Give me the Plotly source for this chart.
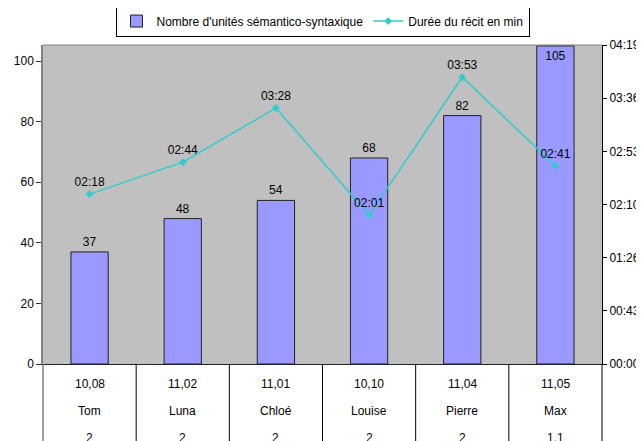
import plotly.graph_objects as go

names = ["Tom", "Luna", "Chloé", "Louise", "Pierre", "Max"]
ages = ["10,08", "11,02", "11,01", "10,10", "11,04", "11,05"]
groups = ["2", "2", "2", "2", "2", "1.1"]
units = [37, 48, 54, 68, 82, 105]
durations = ["02:18", "02:44", "03:28", "02:01", "03:53", "02:41"]

left_ticks = [0, 20, 40, 60, 80, 100]
right_tick_secs = [0, 43.2, 86.4, 129.6, 172.8, 216.0, 259.2]
right_tick_text = ["00:00", "00:43", "01:26", "02:10", "02:53", "03:36", "04:19"]

def to_sec(s):
    m, sec = s.split(":")
    return int(m) * 60 + int(sec)

dur_secs = [to_sec(d) for d in durations]
xs = list(range(len(names)))

FONT = "Liberation Sans, Arial, sans-serif"
FS = 12

fig = go.Figure()
fig.add_trace(go.Bar(
    x=xs, y=units, name="Nombre d'unités sémantico-syntaxique",
    marker=dict(color="#9999FF", line=dict(color="#222222", width=1)),
    width=0.4,
    text=[str(u) for u in units],
    textposition=["outside"] * 5 + ["inside"],
    insidetextanchor="end",
    textfont=dict(family=FONT, size=FS, color="black"),
    insidetextfont=dict(family=FONT, size=FS, color="black"),
    outsidetextfont=dict(family=FONT, size=FS, color="black"),
    constraintext="none",
    cliponaxis=False,
))
fig.add_trace(go.Scatter(
    x=xs, y=dur_secs, yaxis="y2", name="Durée du récit en min",
    mode="lines+markers+text",
    line=dict(color="#33CCCC", width=1.5),
    marker=dict(color="#33CCCC", size=6, symbol="diamond"),
    text=durations, textposition="top center",
    textfont=dict(family=FONT, size=FS, color="black"),
    cliponaxis=False,
))

# category rows and separators
row_y = [-0.063, -0.146, -0.232]
for i in xs:
    for ry, labels in zip(row_y, [ages, names, groups]):
        fig.add_annotation(x=i, y=ry, xref="x", yref="paper", text=labels[i],
                           showarrow=False, font=dict(family=FONT, size=FS, color="black"),
                           yanchor="middle")
for i in range(1, len(names)):
    fig.add_shape(type="line", xref="x", yref="paper", x0=i - 0.5, x1=i - 0.5,
                  y0=0, y1=-0.3, line=dict(color="black", width=1))
fig.add_shape(type="line", xref="paper", yref="paper", x0=0, x1=0, y0=0, y1=-0.3,
              line=dict(color="#808080", width=1.5))
fig.add_shape(type="line", xref="paper", yref="paper", x0=1, x1=1, y0=0, y1=-0.3,
              line=dict(color="black", width=1))
# top border of plot area
fig.add_shape(type="line", xref="paper", yref="paper", x0=0, x1=1, y0=1, y1=1,
              line=dict(color="#808080", width=1))

# page body has an 8px default margin, so the figure is 8px smaller and offset
fig.update_layout(
    width=636, height=433,
    margin=dict(l=35, r=42, t=37, b=77, autoexpand=False),
    paper_bgcolor="white", plot_bgcolor="#C0C0C0",
    font=dict(family=FONT, size=FS, color="black"),
    showlegend=True,
    legend=dict(orientation="h", x=0.5, xanchor="center", y=1.075, yanchor="middle",
                bordercolor="black", borderwidth=1, bgcolor="white",
                font=dict(family=FONT, size=FS), itemwidth=30,
                tracegroupgap=0),
    xaxis=dict(range=[-0.5, 5.5], showticklabels=False, showgrid=False, zeroline=False,
               showline=True, linecolor="#222222", linewidth=1, ticks="", automargin=False),
    yaxis=dict(range=[0, 105.3], tickvals=left_ticks, showgrid=False, zeroline=False,
               showline=True, linecolor="#808080", linewidth=1.5, ticks="outside",
               ticklen=5, tickcolor="#333333", automargin=False,
               tickfont=dict(family=FONT, size=FS, color="black")),
    yaxis2=dict(range=[0, 259.2], overlaying="y", side="right", tickvals=right_tick_secs,
                ticktext=right_tick_text, showgrid=False, zeroline=False, showline=True,
                linecolor="black", linewidth=1, ticks="outside", ticklen=4, automargin=False,
                tickcolor="black", tickfont=dict(family=FONT, size=FS, color="black")),
    bargap=0.6,
)

fig.write_html("out.html")
